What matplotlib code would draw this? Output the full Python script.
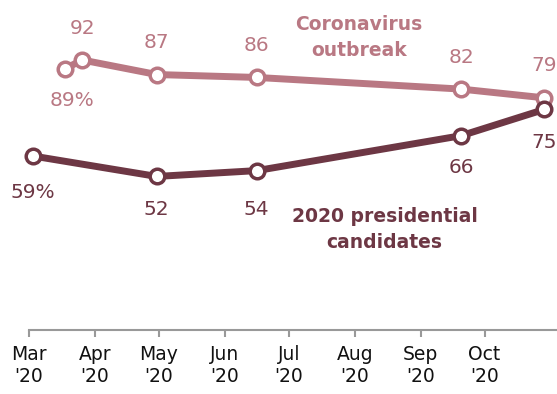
import numpy as np
import pandas as pd
import matplotlib.pyplot as plt
import matplotlib.dates as mdates

# Share who say they follow news about each topic closely
covid_dates = pd.to_datetime(['2020-03-18', '2020-03-26', '2020-04-30',
                              '2020-06-16', '2020-09-20', '2020-10-29'])
covid_vals = [89, 92, 87, 86, 82, 79]
covid_labels = ['89%', '92', '87', '86', '82', '79']

cand_dates = pd.to_datetime(['2020-03-03', '2020-04-30', '2020-06-16',
                             '2020-09-20', '2020-10-29'])
cand_vals = [59, 52, 54, 66, 75]
cand_labels = ['59%', '52', '54', '66', '75']

month_ticks = pd.date_range('2020-03-01', '2020-10-01', freq='MS')
month_names = ['Mar', 'Apr', 'May', 'Jun', 'Jul', 'Aug', 'Sep', 'Oct']

pink = '#b97883'
maroon = '#6d3744'

fig = plt.figure(figsize=(5.57, 3.94), dpi=100)
ax = fig.add_axes([0.052, 0.162, 0.948, 0.838])

for d, v, c in [(covid_dates, covid_vals, pink), (cand_dates, cand_vals, maroon)]:
    ax.plot(d, v, color=c, lw=5, marker='o', ms=10.5, mfc='white',
            mec=c, mew=2.5, zorder=3, clip_on=False)

# value labels: covid labels above, except the first one below
for i, (d, v, s) in enumerate(zip(covid_dates, covid_vals, covid_labels)):
    dy = -23 if i == 0 else 23
    dx = 5 if i == 0 else 0
    ax.annotate(s, (d, v), xytext=(dx, dy), textcoords='offset points',
                ha='center', va='center', fontsize=14.5, color=pink)

cand_off = [26, 24, 28, 23, 24]
for d, v, s, off in zip(cand_dates, cand_vals, cand_labels, cand_off):
    ax.annotate(s, (d, v), xytext=(0, -off), textcoords='offset points',
                ha='center', va='center', fontsize=14.5, color=maroon)

ax.text(pd.Timestamp('2020-08-03'), 99.6, 'Coronavirus\noutbreak', ha='center',
        va='center', fontsize=13.5, fontweight='bold', color=pink, linespacing=1.45)
ax.text(pd.Timestamp('2020-08-15'), 33.9, '2020 presidential\ncandidates', ha='center',
        va='center', fontsize=13.5, fontweight='bold', color=maroon, linespacing=1.45)

ax.set_xlim(pd.Timestamp('2020-03-01'), pd.Timestamp('2020-11-04'))
ax.set_ylim(-0.8, 112.6)
ax.set_xticks(month_ticks)
ax.set_xticklabels([m + "\n'20" for m in month_names], fontsize=13.5, color='#111111')
ax.tick_params(axis='x', length=5, width=1.5, color='#999999', pad=6)
ax.set_yticks([])
for side in ['left', 'right', 'top']:
    ax.spines[side].set_visible(False)
ax.spines['bottom'].set_color('#999999')
ax.spines['bottom'].set_linewidth(1.5)

fig.savefig('out.png', dpi=100)
